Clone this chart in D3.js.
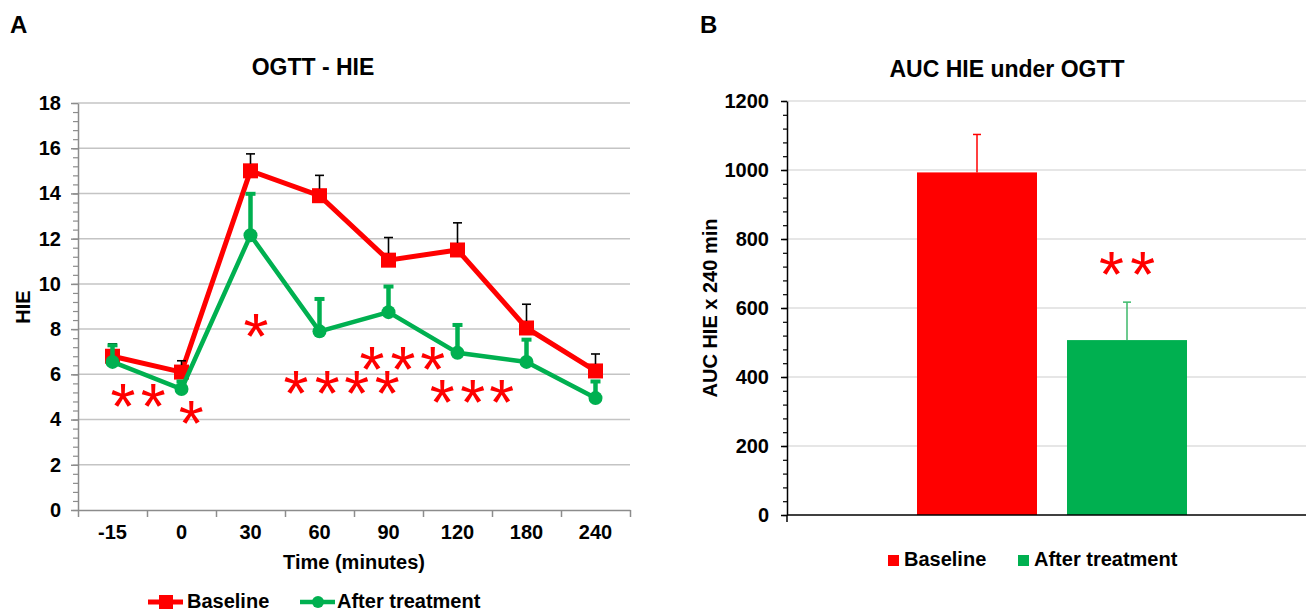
<!DOCTYPE html>
<html>
<head>
<meta charset="utf-8">
<script src="https://cdn.jsdelivr.net/npm/d3@7"></script>
<style>
  body { margin: 0; background: #fff; }
  text { font-family: "Liberation Sans", Arial, sans-serif; font-weight: bold; fill: #000; }
</style>
</head>
<body>
<div id="chart"></div>
<script>
// panel A data: HIE over the OGTT
const times = ["-15", "0", "30", "60", "90", "120", "180", "240"];
const baseline = [6.8, 6.1, 15.0, 13.9, 11.05, 11.5, 8.05, 6.15];
const baselineSE = [0.55, 0.5, 0.75, 0.9, 1.0, 1.2, 1.05, 0.75];
const afterTx = [6.55, 5.35, 12.15, 7.9, 8.75, 6.95, 6.55, 4.95];
const afterTxSE = [0.8, 0.4, 1.9, 1.5, 1.2, 1.3, 1.05, 0.8];
const hieTicks = [0, 2, 4, 6, 8, 10, 12, 14, 16, 18];
// significance stars, [category index, HIE value]
const starsA = [[0.65, 5.04], [1.09, 5.04], [1.64, 4.29], [2.58, 8.14],
  [3.16, 5.62], [3.61, 5.62], [4.04, 5.62], [4.48, 5.62],
  [4.26, 6.68], [4.71, 6.68], [5.14, 6.68],
  [5.28, 5.22], [5.72, 5.22], [6.14, 5.22]];

// panel B data: AUC
const groups = ["Baseline", "After treatment"];
const auc = [993, 507];
const aucSE = [110, 110];
const aucTicks = [0, 200, 400, 600, 800, 1000, 1200];
const starsB = [[-0.13, 727], [0.13, 727]]; // offset from "After treatment" bar centre (band units), AUC value

const RED = "#ff0000", GREEN = "#00b050";

var svg = d3.select("#chart").append("svg")
    .attr("width", 1306)
    .attr("height", 611);

function star(g, cx, cy) {  // centre the asterisk ink on cx,cy
    var fs = 64;
    g.append("text")
        .attr("x", cx)
        .attr("y", cy + fs * 0.51)
        .attr("text-anchor", "middle")
        .style("font-size", fs + "px")
        .style("font-weight", "normal")
        .style("fill", RED)
        .text("*");
}

// ---------------- panel A ----------------
var a = svg.append("g");
var x = d3.scaleBand().domain(times).range([78, 630]);
var xi = d3.scaleLinear().domain([0, 8]).range([78, 630]);
var y = d3.scaleLinear().domain([0, 18]).range([510, 103]);

a.append("g").selectAll("line")
    .data(hieTicks.filter(d => d > 0))
    .enter().append("line")
        .attr("x1", 78).attr("x2", 630)
        .attr("y1", d => y(d)).attr("y2", d => y(d))
        .attr("stroke", "#c4c4c4").attr("stroke-width", 1.5);

// minor ticks
a.append("g")
    .attr("transform", "translate(78,0)")
    .call(d3.axisLeft(y).tickValues(d3.range(0, 18.01, 0.4)).tickSize(5).tickFormat(""))
    .call(g => g.select(".domain").remove())
    .call(g => g.selectAll("line").attr("stroke", "#8c8c8c").attr("stroke-width", 1.2));

a.append("g")
    .attr("transform", "translate(78,0)")
    .call(d3.axisLeft(y).tickValues(hieTicks).tickSize(7).tickPadding(10).tickSizeOuter(0))
    .call(g => g.select(".domain").attr("stroke", "#8c8c8c").attr("stroke-width", 1.5))
    .call(g => g.selectAll("line").attr("stroke", "#8c8c8c").attr("stroke-width", 1.5))
    .call(g => g.selectAll("text").style("font-size", "20px").attr("fill", "#000"));

a.append("g")
    .attr("transform", "translate(0,510)")
    .call(d3.axisBottom(xi).ticks(8).tickSize(7).tickFormat("").tickSizeOuter(0))
    .call(g => g.select(".domain").attr("stroke", "#8c8c8c").attr("stroke-width", 1.5))
    .call(g => g.selectAll("line").attr("stroke", "#8c8c8c").attr("stroke-width", 1.5));

a.append("g")
    .attr("transform", "translate(0,510)")
    .call(d3.axisBottom(x).tickSize(0).tickPadding(15))
    .call(g => g.select(".domain").remove())
    .call(g => g.selectAll("text").style("font-size", "20px").attr("fill", "#000"));

var cx = d => x(d) + x.bandwidth() / 2;
var line = d3.line().x((d, i) => cx(times[i])).y(d => y(d));

// baseline series
a.append("path").datum(baseline)
    .attr("d", line).attr("fill", "none").attr("stroke", RED).attr("stroke-width", 5);
a.append("g").selectAll("rect")
    .data(baseline).enter().append("rect")
        .attr("x", (d, i) => cx(times[i]) - 7.5).attr("y", d => y(d) - 7.5)
        .attr("width", 15).attr("height", 15).attr("fill", RED);
var eb = a.append("g").attr("stroke", "#000").attr("stroke-width", 1.6);
baseline.forEach(function(d, i) {
    var px = cx(times[i]);
    eb.append("line").attr("x1", px).attr("x2", px).attr("y1", y(d) - 7).attr("y2", y(d + baselineSE[i]));
    eb.append("line").attr("x1", px - 4.5).attr("x2", px + 4.5).attr("y1", y(d + baselineSE[i])).attr("y2", y(d + baselineSE[i]));
});

// after treatment series
a.append("path").datum(afterTx)
    .attr("d", line).attr("fill", "none").attr("stroke", GREEN).attr("stroke-width", 4.5);
var eg = a.append("g").attr("stroke", GREEN);
afterTx.forEach(function(d, i) {
    var px = cx(times[i]);
    eg.append("line").attr("x1", px).attr("x2", px).attr("y1", y(d)).attr("y2", y(d + afterTxSE[i])).attr("stroke-width", 4.5);
    eg.append("line").attr("x1", px - 5).attr("x2", px + 5).attr("y1", y(d + afterTxSE[i]) + 1.5).attr("y2", y(d + afterTxSE[i]) + 1.5).attr("stroke-width", 4);
});
a.append("g").selectAll("circle")
    .data(afterTx).enter().append("circle")
        .attr("cx", (d, i) => cx(times[i])).attr("cy", d => y(d))
        .attr("r", 7).attr("fill", GREEN);

starsA.forEach(s => star(a, xi(s[0]), y(s[1])));

a.append("text").attr("x", 10).attr("y", 33).style("font-size", "24px").text("A");
a.append("text").attr("x", 313).attr("y", 75).attr("text-anchor", "middle").style("font-size", "23px").text("OGTT - HIE");
a.append("text").attr("transform", "translate(30,307) rotate(-90)").attr("text-anchor", "middle").style("font-size", "20px").text("HIE");
a.append("text").attr("x", 354).attr("y", 569).attr("text-anchor", "middle").style("font-size", "20px").text("Time (minutes)");

// legend A
var la = a.append("g");
la.append("line").attr("x1", 148).attr("x2", 183).attr("y1", 602).attr("y2", 602).attr("stroke", RED).attr("stroke-width", 5);
la.append("rect").attr("x", 159).attr("y", 595).attr("width", 14).attr("height", 14).attr("fill", RED);
la.append("text").attr("x", 187).attr("y", 608).style("font-size", "20px").text(groups[0]);
la.append("line").attr("x1", 300).attr("x2", 335).attr("y1", 602).attr("y2", 602).attr("stroke", GREEN).attr("stroke-width", 4.5);
la.append("circle").attr("cx", 318).attr("cy", 602).attr("r", 6).attr("fill", GREEN);
la.append("text").attr("x", 337).attr("y", 608).style("font-size", "20px").text(groups[1]);

// ---------------- panel B ----------------
var b = svg.append("g");
var xb = d3.scaleBand().domain(groups).range([917, 1187]).paddingInner(0.2);
var yb = d3.scaleLinear().domain([0, 1200]).range([515, 101]);
var colors = [RED, GREEN];

b.append("g").selectAll("line")
    .data(aucTicks.filter(d => d > 0))
    .enter().append("line")
        .attr("x1", 787).attr("x2", 1306)
        .attr("y1", d => yb(d)).attr("y2", d => yb(d))
        .attr("stroke", "#dedede").attr("stroke-width", 1.5);

b.append("g")
    .attr("transform", "translate(787,0)")
    .call(d3.axisLeft(yb).tickValues(d3.range(0, 1201, 40)).tickSize(4).tickFormat(""))
    .call(g => g.select(".domain").remove())
    .call(g => g.selectAll("line").attr("stroke", "#000").attr("stroke-width", 1.2));

b.append("g")
    .attr("transform", "translate(787,0)")
    .call(d3.axisLeft(yb).tickValues(aucTicks).tickFormat(d3.format("d")).tickSize(6).tickPadding(12).tickSizeOuter(0))
    .call(g => g.select(".domain").attr("stroke", "#000").attr("stroke-width", 1.5))
    .call(g => g.selectAll("line").attr("stroke", "#000").attr("stroke-width", 1.5))
    .call(g => g.selectAll("text").style("font-size", "20px").attr("fill", "#000"));

b.append("line").attr("x1", 787).attr("x2", 787).attr("y1", 515).attr("y2", 522).attr("stroke", "#000").attr("stroke-width", 1.5);

b.append("g").selectAll("rect")
    .data(auc).enter().append("rect")
        .attr("x", (d, i) => xb(groups[i]))
        .attr("y", d => yb(d))
        .attr("width", xb.bandwidth())
        .attr("height", d => yb(0) - yb(d))
        .attr("fill", (d, i) => colors[i]);

auc.forEach(function(d, i) {
    var px = xb(groups[i]) + xb.bandwidth() / 2;
    var top = yb(d + aucSE[i]);
    var c = i == 0 ? RED : "#3cb96a";
    b.append("line").attr("x1", px).attr("x2", px).attr("y1", yb(d)).attr("y2", top).attr("stroke", c).attr("stroke-width", 1.5);
    b.append("line").attr("x1", px - 4).attr("x2", px + 4).attr("y1", top).attr("y2", top).attr("stroke", c).attr("stroke-width", 1.5);
});

// x axis at 0
b.append("line").attr("x1", 787).attr("x2", 1306).attr("y1", 515).attr("y2", 515).attr("stroke", "#000").attr("stroke-width", 1.5);

var gx = xb(groups[1]) + xb.bandwidth() / 2;
starsB.forEach(s => star(b, gx + s[0] * xb.bandwidth(), yb(s[1])));

b.append("text").attr("x", 700).attr("y", 33).style("font-size", "24px").text("B");
b.append("text").attr("x", 1007).attr("y", 77).attr("text-anchor", "middle").style("font-size", "23px").text("AUC HIE under OGTT");
b.append("text").attr("transform", "translate(717,308) rotate(-90)").attr("text-anchor", "middle").style("font-size", "20px").text("AUC HIE x 240 min");

// legend B
var lb = b.append("g");
groups.forEach(function(g, i) {
    var lx = i == 0 ? 888 : 1018;
    lb.append("rect").attr("x", lx).attr("y", 555).attr("width", 11).attr("height", 11).attr("fill", colors[i]);
    lb.append("text").attr("x", lx + 16).attr("y", 566).style("font-size", "20px").text(g);
});
</script>
</body>
</html>
